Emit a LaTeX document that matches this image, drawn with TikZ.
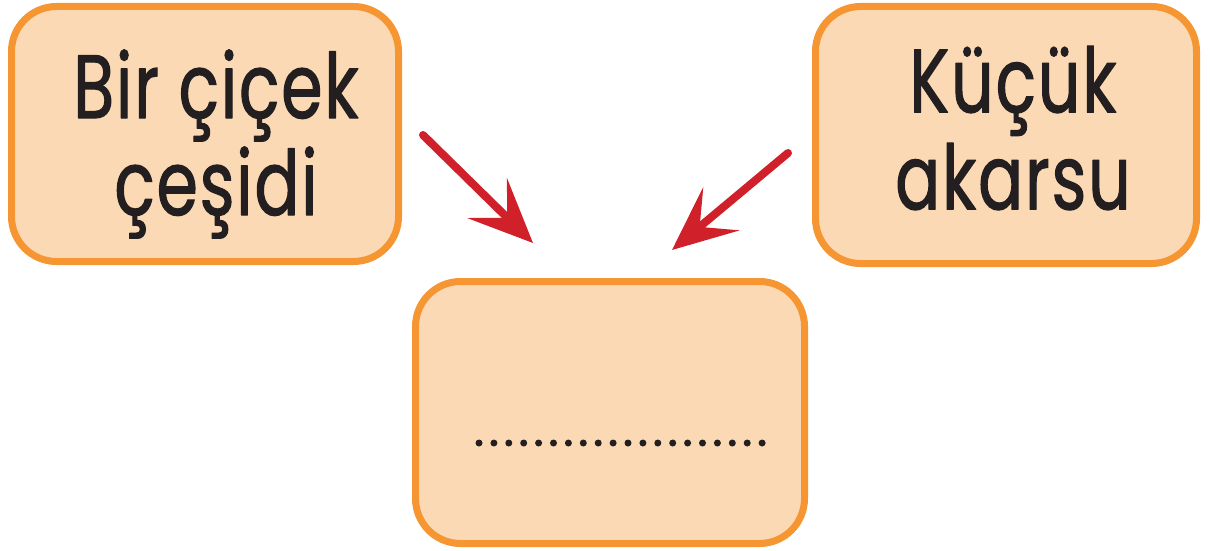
\documentclass[tikz,border=0pt]{standalone}
\usepackage{fontspec}
\setmainfont{Poppins}[FakeStretch=0.74,FakeBold=1.2,LetterSpace=2]
\usetikzlibrary{arrows.meta}
\definecolor{cardedge}{RGB}{245,150,50}
\definecolor{cardfill}{RGB}{251,217,181}
\definecolor{pointred}{RGB}{208,32,42}
\definecolor{ink}{RGB}{35,31,32}
\tikzset{
  card/.style={draw=cardedge,line width=7pt,fill=cardfill,rounded corners=45pt,inner sep=0pt},
  word/.style={align=center,inner sep=0pt,text=ink,font=\fontsize{90}{97}\selectfont},
  pointer/.style={draw=pointred,line width=8pt,-{Stealth[length=64pt,width=56pt,inset=28pt]}}
}
\begin{document}
\begin{tikzpicture}[line cap=round,line join=round,x=1pt,y=-1pt]
\useasboundingbox (0,0) rectangle (1210,551);
% the three cards
\node[card,minimum width=387pt,minimum height=255pt] (flower) at (205,134) {};
\node[card,minimum width=381pt,minimum height=257pt] (stream) at (1006,135) {};
\node[card,minimum width=389pt,minimum height=262pt] (answer) at (610,412.5) {};
\node[word] (flowertext) at (216,144) {Bir çiçek\\çeşidi};
\node[word] (streamtext) at (1013,128) {Küçük\\akarsu};
% blank to fill in
\foreach \i in {0,...,19}
  \fill[ink] (479+\i*14.9,443) circle (3.5);
% arrows
\coordinate (flowerfrom) at (423,135);
\coordinate (flowerto) at (533,243);
\coordinate (streamfrom) at (788,153);
\coordinate (streamto) at (672,250);
\draw[pointer] (flowerfrom) -- (flowerto);
\draw[pointer] (streamfrom) -- (streamto);
\end{tikzpicture}
\end{document}
